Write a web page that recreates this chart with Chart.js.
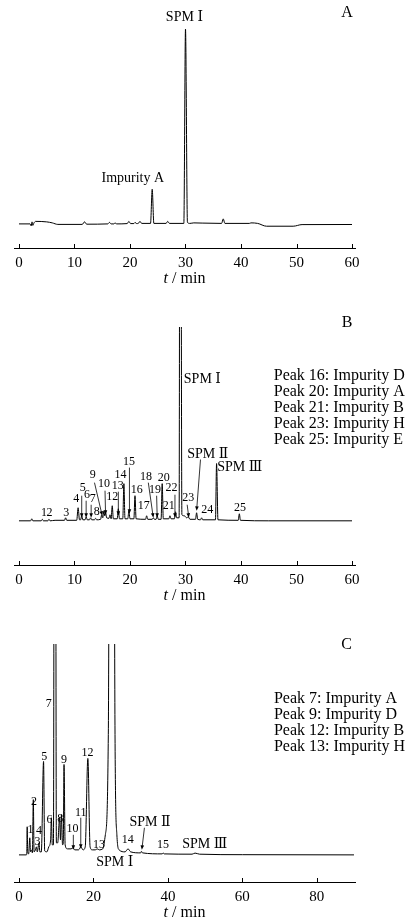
<!DOCTYPE html>
<html><head><meta charset="utf-8">
<script src="https://cdn.jsdelivr.net/npm/chart.js@4.4.1/dist/chart.umd.min.js"></script>
<style>
html,body{margin:0;padding:0;background:#fff}
body{width:407px;height:920px;overflow:hidden;position:relative}
canvas{position:absolute;left:0}
</style></head><body>
<canvas id="cA" width="407" height="290" style="top:0px"></canvas>
<canvas id="cB" width="407" height="317" style="top:290px"></canvas>
<canvas id="cC" width="407" height="313" style="top:607px"></canvas>
<script>
// ---------- DATA (retention time in min, detector response in relative units) ----------
const timeA = [0,2.0,2.2,2.35,2.5,2.7,3.0,5.0,6.0,7.0,11.4,11.8,12.2,16.0,16.3,16.6,17.1,17.3,17.6,19.5,19.8,20.1,20.7,20.9,21.2,21.5,21.8,22.1,23.7,24.0,24.3,26.5,26.8,27.1,29.7,30.0,30.35,30.8,31.5,33.0,36.5,36.8,37.1,41.5,41.8,43.0,44.6,49.4,51.0,60];
const signalA = [0,0,-2,2,-1.5,1,2.5,2,1,-0.5,-0.5,2,-0.3,0,1.5,0,0,1,0,0.3,2.5,0.3,0.3,1.5,0.3,0.5,2.5,0.5,0.5,34.5,0.5,0.5,2.5,0.5,0.5,194,1.5,0.5,1,0.8,0.5,5,0.5,0.5,1,0.5,-2.3,-2.3,-0.7,-0.6];

const timeB = [0,2.1,2.3,2.5,4.0,4.2,4.4,5.2,5.4,5.6,6.5,8.2,8.4,8.6,10.4,10.65,10.9,11.1,11.3,11.5,11.9,12.1,12.3,12.7,12.9,13.1,13.6,13.8,14.0,14.7,14.9,15.1,15.3,15.45,15.6,15.8,16.2,16.4,16.6,16.8,17.0,17.7,17.9,18.1,18.7,18.9,19.1,19.6,19.8,20.0,20.7,20.9,21.1,22.8,23.0,23.2,24.0,24.2,24.4,24.7,24.9,25.1,25.6,25.8,26.0,27.0,27.2,27.4,28.0,28.2,28.4,28.85,29.05,29.35,29.8,30.2,30.5,30.8,31.8,32.0,32.2,32.7,32.9,33.1,35.4,35.6,35.85,39.5,39.7,39.9,45,60];
const signalB = [0,0,2,0,0,1.5,0,0,1.5,0,0.5,0.5,3,0.5,0.5,13,1,1,5,1,1,4,1,1,3,1,1,2.5,1,1.5,6,3,10,5,8,3,2.5,6,2,15,2,2,12,2,2,37,2,2,10,2,2,25,2,1.5,5,1.5,1.5,3,1.5,1.5,5,1.5,1.5,37,2,2,5,2,2,9,3,3,800,6,5,3,4,1.5,1.5,8,1.5,1,3,1,1,57,1,0.5,7,0.5,0,0];

const timeC = [0,2.0,2.1,2.2,2.35,2.6,2.9,3.1,3.4,3.6,3.85,4.05,4.3,4.7,4.9,5.4,5.6,6.0,6.6,6.9,7.5,8.0,8.5,8.7,8.95,9.25,9.65,10.05,10.4,10.9,11.15,11.4,11.7,11.9,12.1,12.4,13.0,14.0,14.5,15.0,16.0,16.6,17.2,17.8,18.5,19.1,19.7,20.5,21.0,21.6,22.5,23.2,24.0,24.9,25.8,26.3,26.9,28.5,29.3,30.0,32.7,32.9,33.2,38.5,38.7,39.0,46.5,47.3,48.5,60,90];
const signalC = [0,0,3,28,2,1,17,3,5,2,55,3,4,8,3,12,3,3,93,4,3,8,15,37,10,10,1000,12,12,37,15,40,10,12,90,10,6,6,7,5,5,8,5,8,96,8,5,5,6,5,6,20,120,1500,120,20,5,3,6,3,2,3.5,2,1,2,1,0.7,1.8,0.7,0.2,0];

const xTicksAB = [0,10,20,30,40,50,60];
const xTicksC = [0,20,40,60,80];

const legendB = ['Peak 16: Impurity D','Peak 20: Impurity A','Peak 21: Impurity B','Peak 23: Impurity H','Peak 25: Impurity E'];
const legendC = ['Peak 7: Impurity A','Peak 9: Impurity D','Peak 12: Impurity B','Peak 13: Impurity H'];

// ---------- ANNOTATIONS (text anchored in data coordinates) ----------
const SERIF = "'Liberation Serif','Times New Roman','DejaVu Serif','Noto Sans CJK SC',serif";

const annA = {
  labels: [
    {text:'A', t:59.1, v:210, size:16},
    {text:'SPM Ⅰ', t:29.8, v:206, size:14},
    {text:'Impurity A', t:20.5, v:45, size:14}
  ],
  arrows: [], legend: null
};
const annB = {
  labels: [
    {text:'B', t:59.1, v:197, size:16},
    {text:'SPM Ⅰ', t:29.7, v:141, size:14, align:'left'},
    {text:'SPM Ⅱ', t:30.3, v:66, size:14, align:'left'},
    {text:'SPM Ⅲ', t:35.7, v:53, size:14, align:'left'},
    {text:'1', t:4.5, v:8, size:12},{text:'2', t:5.5, v:8, size:12},
    {text:'3', t:8.5, v:8, size:12},{text:'4', t:10.3, v:22, size:12},
    {text:'5', t:11.5, v:33, size:12},{text:'6', t:12.25, v:26, size:12},
    {text:'7', t:13.3, v:22, size:12},{text:'8', t:14.0, v:9, size:12},
    {text:'9', t:13.3, v:46, size:12},{text:'10', t:15.3, v:37, size:12},
    {text:'12', t:16.8, v:24, size:12},{text:'13', t:17.8, v:35, size:12},
    {text:'14', t:18.3, v:46, size:12},{text:'15', t:19.8, v:59, size:12},
    {text:'16', t:21.2, v:31, size:12},{text:'17', t:22.5, v:15, size:12},
    {text:'18', t:22.9, v:44, size:12},{text:'19', t:24.5, v:31, size:12},
    {text:'20', t:26.1, v:43, size:12},{text:'21', t:27.0, v:15, size:12},
    {text:'22', t:27.5, v:33, size:12},{text:'23', t:30.5, v:23, size:12},
    {text:'24', t:33.9, v:11, size:12},{text:'25', t:39.8, v:13, size:12}
  ],
  arrows: [
    {t1:11.3,v1:25,t2:11.3,v2:3},{t1:12.1,v1:20,t2:12.1,v2:3},{t1:13.0,v1:16,t2:13.0,v2:3},
    {t1:13.6,v1:38,t2:15.0,v2:5},{t1:15.5,v1:30,t2:15.6,v2:6},{t1:17.9,v1:29,t2:17.9,v2:5},
    {t1:19.9,v1:53,t2:19.9,v2:7},{t1:23.3,v1:38,t2:24.2,v2:3},{t1:24.8,v1:25,t2:24.9,v2:3},
    {t1:28.1,v1:26,t2:28.1,v2:3},{t1:30.3,v1:16,t2:30.6,v2:3},{t1:32.7,v1:61,t2:32.0,v2:10}
  ],
  legend: {lines: legendB, t:45.9, v:144, step:16, size:16}
};
const annC = {
  labels: [
    {text:'C', t:88.0, v:209, size:16},
    {text:'7', t:8.0, v:150, size:12},{text:'5', t:6.8, v:98, size:12},
    {text:'9', t:12.1, v:95, size:12},{text:'12', t:18.4, v:102, size:12},
    {text:'2', t:4.0, v:53, size:12},{text:'6', t:8.2, v:35, size:12},
    {text:'8', t:11.1, v:36, size:12},{text:'11', t:16.6, v:42, size:12},
    {text:'10', t:14.4, v:26, size:12},{text:'1', t:3.1, v:25, size:12},
    {text:'4', t:5.4, v:24, size:12},{text:'3', t:5.0, v:13, size:12},
    {text:'13', t:21.5, v:10, size:12},{text:'14', t:29.2, v:15, size:12},
    {text:'15', t:38.7, v:10, size:12},
    {text:'SPM Ⅰ', t:25.7, v:-7, size:14},
    {text:'SPM Ⅱ', t:35.2, v:32, size:14},
    {text:'SPM Ⅲ', t:49.9, v:11, size:14}
  ],
  arrows: [
    {t1:16.6,v1:37,t2:16.6,v2:6},{t1:14.6,v1:20,t2:14.6,v2:5},{t1:33.7,v1:27,t2:33.0,v2:5}
  ],
  legend: {lines: legendC, t:68.5, v:155, step:16, size:16}
};

// ---------- drawing ----------
function makeAnnot(spec){
  return {
    id:'annot',
    afterDraw(chart){
      const ctx = chart.ctx, xs = chart.scales.x, ys = chart.scales.y, ca = chart.chartArea;
      const X = v => xs.getPixelForValue(v), Y = v => ys.getPixelForValue(v);
      ctx.save();
      ctx.fillStyle = '#000'; ctx.strokeStyle = '#000'; ctx.lineWidth = 1;
      // inward tick marks
      xs.ticks.forEach(tk => {
        const x = Math.round(X(tk.value)) + 0.5;
        ctx.beginPath(); ctx.moveTo(x, ca.bottom); ctx.lineTo(x, ca.bottom - 4); ctx.stroke();
      });
      // axis title "t / min" with italic t
      ctx.textBaseline = 'middle'; ctx.textAlign = 'left';
      const fI = 'italic 16px ' + SERIF, fR = '16px ' + SERIF;
      ctx.font = fI; const w1 = ctx.measureText('t').width;
      ctx.font = fR; const w2 = ctx.measureText(' / min').width;
      const cx = (ca.left + ca.right) / 2, ty = ca.bottom + 31;
      const x0 = cx - (w1 + w2) / 2;
      ctx.font = fI; ctx.fillText('t', x0, ty);
      ctx.font = fR; ctx.fillText(' / min', x0 + w1, ty);
      // labels
      spec.labels.forEach(l => {
        ctx.font = l.size + 'px ' + SERIF;
        ctx.textAlign = l.align || 'center';
        ctx.textBaseline = 'middle';
        ctx.fillText(l.text, X(l.t), Y(l.v));
      });
      // arrows
      spec.arrows.forEach(a => {
        const x1 = X(a.t1), y1 = Y(a.v1), x2 = X(a.t2), y2 = Y(a.v2);
        const ang = Math.atan2(y2 - y1, x2 - x1), L = 4.5, W = 1.8;
        ctx.lineWidth = 0.8;
        ctx.beginPath(); ctx.moveTo(x1, y1); ctx.lineTo(x2 - Math.cos(ang) * L * 0.6, y2 - Math.sin(ang) * L * 0.6); ctx.stroke();
        ctx.beginPath();
        ctx.moveTo(x2, y2);
        ctx.lineTo(x2 - Math.cos(ang) * L - Math.sin(ang) * W, y2 - Math.sin(ang) * L + Math.cos(ang) * W);
        ctx.lineTo(x2 - Math.cos(ang) * L + Math.sin(ang) * W, y2 - Math.sin(ang) * L - Math.cos(ang) * W);
        ctx.closePath(); ctx.fill();
      });
      // legend block
      if (spec.legend) {
        const lg = spec.legend;
        ctx.font = lg.size + 'px ' + SERIF; ctx.textAlign = 'left'; ctx.textBaseline = 'middle';
        lg.lines.forEach((s, i) => ctx.fillText(s, X(lg.t), Y(lg.v) + i * lg.step));
      }
      ctx.restore();
    }
  };
}

function makeChart(id, time, signal, xTicks, xr, yr, pad, spec){
  const pts = time.map((t, i) => ({x: t, y: signal[i]}));
  return new Chart(document.getElementById(id), {
    type: 'line',
    data: { datasets: [{ data: pts, borderColor: '#000', borderWidth: 1, pointRadius: 0,
      cubicInterpolationMode: 'monotone', fill: false }] },
    options: {
      responsive: false, animation: false, events: [],
      layout: { padding: pad },
      plugins: { legend: {display: false}, tooltip: {enabled: false} },
      scales: {
        x: { type: 'linear', min: xr[0], max: xr[1],
          afterBuildTicks: s => { s.ticks = xTicks.map(v => ({value: v})); },
          grid: { display: false, drawTicks: false },
          border: { display: true, color: '#000', width: 1 },
          ticks: { color: '#000', padding: 6, maxRotation: 0, autoSkip: false,
            font: { family: SERIF, size: 15 } }
        },
        y: { display: false, min: yr[0], max: yr[1] }
      }
    },
    plugins: [makeAnnot(spec)]
  });
}

makeChart('cA', timeA, signalA, xTicksAB, [-0.9, 60.54], [-24, 203], {left:14, right:52, top:20, bottom:12}, annA);
makeChart('cB', timeB, signalB, xTicksAB, [-0.9, 60.54], [-44, 193], {left:14, right:52, top:37, bottom:12}, annB);
makeChart('cC', timeC, signalC, xTicksC, [-1.34, 90.27], [-27, 210], {left:14, right:52, top:37, bottom:8}, annC);
</script>
</body></html>
